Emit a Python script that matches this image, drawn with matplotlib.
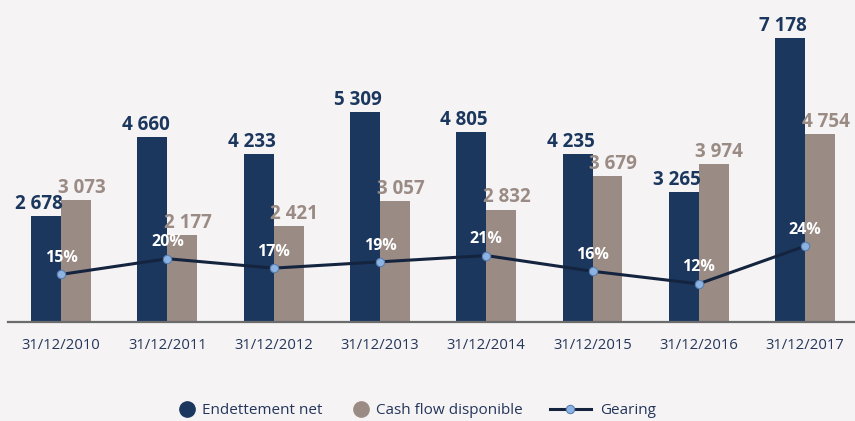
import matplotlib.pyplot as plt
from matplotlib.lines import Line2D
import numpy as np

plt.rcParams['font.family'] = ['Open Sans', 'DejaVu Sans']

dates = ["31/12/2010", "31/12/2011", "31/12/2012", "31/12/2013",
         "31/12/2014", "31/12/2015", "31/12/2016", "31/12/2017"]
endettement = [2678, 4660, 4233, 5309, 4805, 4235, 3265, 7178]
cash_flow = [3073, 2177, 2421, 3057, 2832, 3679, 3974, 4754]
gearing = [15, 20, 17, 19, 21, 16, 12, 24]

NAVY = "#1b375e"
TAUPE = "#9a8b85"
LINE = "#14243f"
MARKER = "#8db3e2"
BG = "#f5f3f4"
TICK = "#24365a"


def fmt(v):
    return f"{v:,}".replace(",", " ")


fig = plt.figure(figsize=(8.55, 4.21), dpi=100, facecolor=BG)
ax = fig.add_axes([8 / 855, 1 - 321.5 / 421, 1 - 8 / 855, 321.5 / 421])
ax.set_facecolor(BG)

x = np.arange(len(dates))
w = 0.282
ax.bar(x - w / 2, endettement, w, color=NAVY, label="Endettement net", zorder=2)
ax.bar(x + w / 2, cash_flow, w, color=TAUPE, label="Cash flow disponible", zorder=2)

for xi, v in zip(x, endettement):
    ax.annotate(fmt(v), (xi - w / 2, v), xytext=(-5, 1.5), textcoords="offset points",
                ha="center", va="bottom", fontsize=13.5, fontweight="bold", color=NAVY)
for xi, v in zip(x, cash_flow):
    ax.annotate(fmt(v), (xi + w / 2, v), xytext=(4, 1.5), textcoords="offset points",
                ha="center", va="bottom", fontsize=13.5, fontweight="bold", color=TAUPE)

ax.set_xlim(-0.5, 7.47)
ax.set_ylim(0, 8135)
ax.set_yticks([])
ax.set_xticks(x)
ax.set_xticklabels(dates, fontsize=10.7, color=TICK)
ax.tick_params(axis="x", length=0, pad=12)
for s in ["top", "right", "left"]:
    ax.spines[s].set_visible(False)
ax.spines["bottom"].set_color("#6b6b6b")
ax.spines["bottom"].set_linewidth(1.6)

ax2 = ax.twinx()
ax2.set_ylim(0, 102.4)
ax2.set_yticks([])
for s in ax2.spines.values():
    s.set_visible(False)
ax2.plot(x, gearing, color=LINE, lw=2.2, marker="o", markersize=6,
         markerfacecolor=MARKER, markeredgecolor="#5a7fb0", markeredgewidth=0.8,
         label="Gearing", zorder=3)
for xi, g in zip(x, gearing):
    ax2.annotate(f"{g}%", (xi, g), xytext=(0, 6), textcoords="offset points",
                 ha="center", va="bottom", fontsize=11.5, fontweight="bold", color="white")

l1 = ax.get_legend_handles_labels()[1]
h2, l2 = ax2.get_legend_handles_labels()
dots = [
    Line2D([], [], ls="none", marker="o", markersize=11, color=NAVY),
    Line2D([], [], ls="none", marker="o", markersize=11, color=TAUPE),
]
leg_y = 1 - 411 / 421
leg1 = fig.legend(dots, l1, loc="center", bbox_to_anchor=(351 / 855, leg_y),
                  ncol=2, frameon=False, fontsize=11, labelcolor=TICK,
                  handlelength=1.0, columnspacing=2.0, handletextpad=0.5)
fig.legend(h2, l2, loc="center", bbox_to_anchor=(603 / 855, leg_y),
           frameon=False, fontsize=11, labelcolor=TICK,
           handlelength=2.7, handletextpad=0.6)

fig.savefig("out.png", dpi=100, facecolor=BG)
